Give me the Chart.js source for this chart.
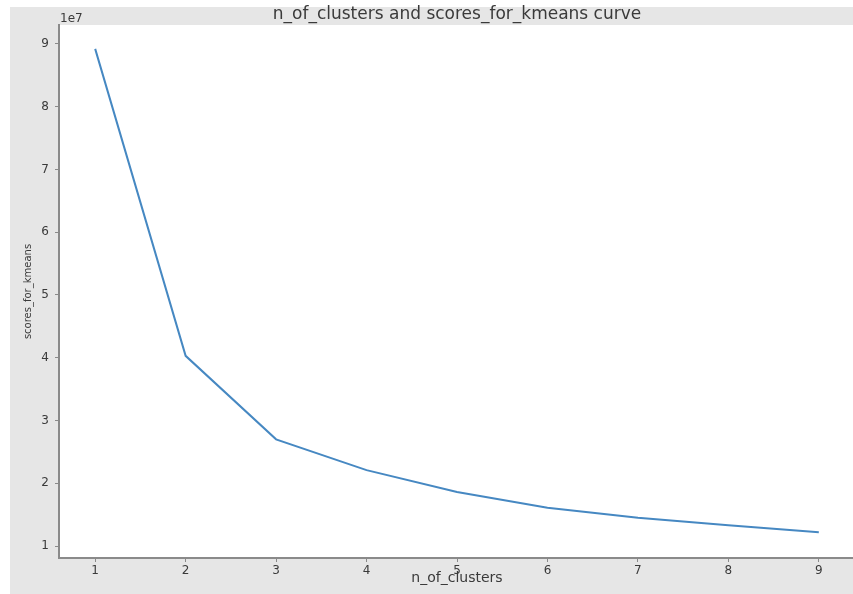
<!DOCTYPE html>
<html>
<head>
<meta charset="utf-8">
<script src="https://cdn.jsdelivr.net/npm/chart.js@4"></script>
<style>
  html, body { margin: 0; padding: 0; background: #fff; overflow: hidden; }
  #bg { position: absolute; left: 10px; top: 7px; right: 0; bottom: 0; background: #e6e6e6; }
  #wrap { position: absolute; left: 0; top: 0; width: 860px; height: 594px; }
</style>
</head>
<body>
<div id="bg"></div>
<div id="wrap"><canvas id="c"></canvas></div>
<script>
// values
const nClusters = [1, 2, 3, 4, 5, 6, 7, 8, 9];
const scores = [89200000, 40300000, 27000000, 22100000, 18600000, 16100000, 14500000, 13300000, 12200000];
const xTicks = [1, 2, 3, 4, 5, 6, 7, 8, 9];
const yTicks = [10000000, 20000000, 30000000, 40000000, 50000000, 60000000, 70000000, 80000000, 90000000];

const axisGrey = '#8a8a8a';
const textGrey = '#3a3a3a';

// white plot area, title and the "1e7" offset label
const decor = {
    id: 'decor',
    beforeDraw(chart) {
        const { ctx, chartArea: a } = chart;
        ctx.save();
        ctx.fillStyle = '#ffffff';
        ctx.fillRect(a.left, a.top, a.right - a.left, a.bottom - a.top);
        ctx.restore();
    },
    afterDraw(chart) {
        const { ctx, chartArea: a } = chart;
        ctx.save();
        ctx.fillStyle = textGrey;
        ctx.font = '17px "DejaVu Sans"';
        ctx.textAlign = 'center';
        ctx.textBaseline = 'alphabetic';
        ctx.fillText('n_of_clusters and scores_for_kmeans curve', 457, 19);
        ctx.font = '12px "DejaVu Sans"';
        ctx.textAlign = 'left';
        ctx.fillText('1e7', a.left + 1, a.top - 3);
        ctx.restore();
    }
};

new Chart(document.getElementById('c'), {
    type: 'line',
    data: {
        datasets: [{
            data: nClusters.map((x, i) => ({ x: x, y: scores[i] })),
            borderColor: '#4688c2',
            borderWidth: 2,
            pointRadius: 0,
            tension: 0,
            fill: false
        }]
    },
    options: {
        responsive: true,
        maintainAspectRatio: false,
        animation: false,
        layout: { padding: { left: 10, top: 25, right: 5, bottom: 0 } },
        plugins: { legend: { display: false }, tooltip: { enabled: false } },
        scales: {
            x: {
                type: 'linear',
                min: 0.6,
                max: 9.4,
                afterBuildTicks: s => { s.ticks = xTicks.map(v => ({ value: v })); },
                afterFit: s => { s.height = 36; },
                grid: { drawOnChartArea: false, color: axisGrey, tickLength: 4, tickWidth: 1 },
                border: { color: axisGrey, width: 2 },
                ticks: { color: textGrey, font: { family: 'DejaVu Sans', size: 12 }, padding: 2, maxRotation: 0 },
                title: { display: true, text: 'n_of_clusters', color: textGrey, font: { family: 'DejaVu Sans', size: 14 }, padding: { top: 0, bottom: 7 } }
            },
            y: {
                min: 8100000,
                max: 93000000,
                afterBuildTicks: s => { s.ticks = yTicks.map(v => ({ value: v })); },
                afterFit: s => { s.width = 49; },
                grid: { drawOnChartArea: false, color: axisGrey, tickLength: 4, tickWidth: 1 },
                border: { color: axisGrey, width: 2 },
                ticks: { color: textGrey, font: { family: 'DejaVu Sans', size: 12 }, padding: 6, callback: v => String(Math.round(v / 1e7)) },
                title: { display: true, text: 'scores_for_kmeans', color: textGrey, font: { family: 'DejaVu Sans', size: 10 }, padding: { top: 12, bottom: 0 } }
            }
        }
    },
    plugins: [decor]
});
</script>
</body>
</html>
